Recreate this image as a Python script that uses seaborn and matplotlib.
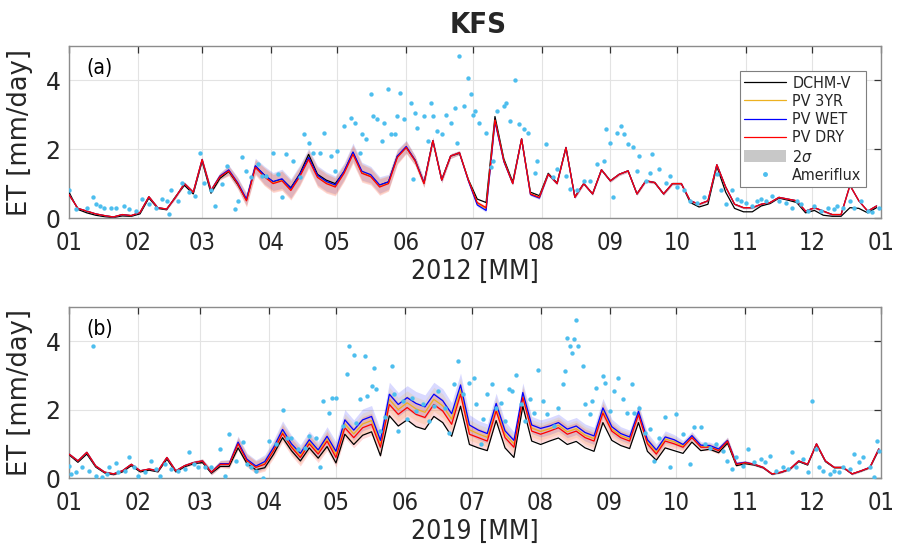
import numpy as np
import pandas as pd
import matplotlib
matplotlib.use("Agg")
import matplotlib.pyplot as plt
from matplotlib.lines import Line2D
from matplotlib.patches import Patch
import seaborn as sns

# ---------------- data ----------------
grid_a = list(range(0, 366, 4))   # day of year 2012 (0 = Jan 1)
grid_b = list(range(0, 365, 4))   # day of year 2019

month_start_a = [0, 31, 60, 91, 121, 152, 182, 213, 244, 274, 305, 335, 366]
month_start_b = [0, 31, 59, 90, 120, 151, 181, 212, 243, 273, 304, 334, 365]
month_labels = ["01", "02", "03", "04", "05", "06", "07", "08", "09", "10", "11", "12", "01"]
year_labels = ["2012 [MM]", "2019 [MM]"]
panel_tags = ["(a)", "(b)"]

dry_a = [0.68, 0.28, 0.20, 0.12, 0.07, 0.03, 0.10, 0.07, 0.16, 0.62,
         0.30, 0.26, 0.60, 1.00, 0.75, 1.70, 0.80, 1.20, 1.37, 1.00,
         0.50, 1.47, 1.20, 1.00, 1.08, 0.80, 1.20, 1.70, 1.18, 1.00,
         0.90, 1.30, 1.85, 1.30, 1.20, 0.90, 1.00, 1.76, 2.05, 1.66,
         1.00, 2.25, 1.10, 1.80, 1.90, 1.10, 0.45, 0.30, 2.85, 1.66,
         1.00, 2.30, 0.70, 0.60, 1.27, 1.00, 2.05, 0.60, 1.00, 0.70,
         1.40, 1.08, 1.27, 1.37, 0.70, 1.08, 1.03, 0.70, 1.00, 1.00,
         0.50, 0.40, 0.50, 1.55, 0.90, 0.40, 0.30, 0.30, 0.40, 0.45,
         0.60, 0.55, 0.50, 0.20, 0.30, 0.20, 0.10, 0.10, 0.95, 0.50,
         0.20, 0.35]
dchm_a = [0.75, 0.25, 0.15, 0.08, 0.04, 0.02, 0.06, 0.05, 0.12, 0.58,
          0.28, 0.24, 0.62, 0.95, 0.70, 1.65, 0.72, 1.15, 1.35, 0.98,
          0.52, 1.50, 1.25, 1.05, 1.12, 0.88, 1.28, 1.85, 1.27, 1.10,
          1.00, 1.35, 1.90, 1.32, 1.22, 0.95, 1.05, 1.80, 2.05, 1.68,
          1.02, 2.25, 1.12, 1.80, 1.88, 1.12, 0.55, 0.45, 2.95, 1.72,
          1.05, 2.30, 0.75, 0.65, 1.30, 1.02, 2.05, 0.62, 1.00, 0.70,
          1.40, 1.08, 1.27, 1.37, 0.70, 1.08, 1.03, 0.70, 1.00, 1.00,
          0.45, 0.32, 0.40, 1.50, 0.75, 0.28, 0.18, 0.18, 0.35, 0.42,
          0.58, 0.52, 0.45, 0.15, 0.22, 0.08, 0.05, 0.05, 0.30, 0.28,
          0.15, 0.30]
wet_a = [0.68, 0.28, 0.20, 0.12, 0.07, 0.03, 0.10, 0.07, 0.16, 0.62,
         0.30, 0.26, 0.60, 1.00, 0.75, 1.70, 0.80, 1.22, 1.40, 1.03,
         0.55, 1.52, 1.25, 1.06, 1.14, 0.86, 1.26, 1.76, 1.24, 1.06,
         0.96, 1.36, 1.92, 1.36, 1.26, 0.96, 1.05, 1.80, 2.08, 1.68,
         1.02, 2.25, 1.10, 1.80, 1.90, 1.08, 0.38, 0.22, 2.80, 1.64,
         1.00, 2.30, 0.68, 0.58, 1.27, 1.00, 2.05, 0.60, 1.00, 0.70,
         1.40, 1.08, 1.27, 1.37, 0.70, 1.08, 1.03, 0.70, 1.00, 1.00,
         0.50, 0.40, 0.50, 1.55, 0.90, 0.40, 0.30, 0.30, 0.40, 0.45,
         0.60, 0.55, 0.50, 0.20, 0.30, 0.20, 0.10, 0.10, 0.95, 0.50,
         0.20, 0.35]
yr3_a = [0.68, 0.28, 0.20, 0.12, 0.07, 0.03, 0.10, 0.07, 0.16, 0.62,
         0.30, 0.26, 0.60, 1.00, 0.75, 1.70, 0.80, 1.21, 1.38, 1.02,
         0.52, 1.50, 1.22, 1.03, 1.10, 0.83, 1.23, 1.73, 1.21, 1.03,
         0.93, 1.33, 1.88, 1.33, 1.23, 0.93, 1.02, 1.78, 2.06, 1.67,
         1.01, 2.25, 1.10, 1.80, 1.90, 1.10, 0.42, 0.27, 2.83, 1.66,
         1.00, 2.30, 0.70, 0.60, 1.27, 1.00, 2.05, 0.60, 1.00, 0.70,
         1.40, 1.08, 1.27, 1.37, 0.70, 1.08, 1.03, 0.70, 1.00, 1.00,
         0.50, 0.40, 0.50, 1.55, 0.90, 0.40, 0.30, 0.30, 0.40, 0.45,
         0.60, 0.55, 0.50, 0.20, 0.30, 0.20, 0.10, 0.10, 0.95, 0.50,
         0.20, 0.35]
sigma_a = [0.03, 0.03, 0.03, 0.03, 0.03, 0.03, 0.03, 0.03, 0.03, 0.03,
           0.03, 0.03, 0.04, 0.05, 0.05, 0.06, 0.08, 0.10, 0.14, 0.16,
           0.18, 0.22, 0.26, 0.26, 0.28, 0.28, 0.28, 0.26, 0.28, 0.28,
           0.26, 0.24, 0.26, 0.26, 0.24, 0.24, 0.22, 0.20, 0.18, 0.14,
           0.12, 0.10, 0.08, 0.07, 0.06, 0.05, 0.05, 0.05, 0.05, 0.05,
           0.04, 0.04, 0.04, 0.04, 0.04, 0.04, 0.04, 0.04, 0.04, 0.04,
           0.04, 0.04, 0.04, 0.04, 0.04, 0.04, 0.04, 0.04, 0.04, 0.04,
           0.03, 0.03, 0.03, 0.03, 0.03, 0.03, 0.03, 0.03, 0.03, 0.03,
           0.03, 0.03, 0.03, 0.03, 0.03, 0.03, 0.03, 0.03, 0.03, 0.03,
           0.03, 0.03]

dry_b = [0.70, 0.50, 0.75, 0.35, 0.17, 0.12, 0.21, 0.40, 0.21, 0.26,
         0.21, 0.60, 0.21, 0.36, 0.45, 0.50, 0.17, 0.40, 0.40, 1.00,
         0.50, 0.31, 0.40, 0.80, 1.30, 0.90, 0.60, 1.00, 0.70, 1.08,
         0.60, 1.47, 1.18, 1.47, 1.57, 0.90, 2.15, 1.86, 2.06, 1.86,
         1.77, 2.15, 1.96, 1.57, 2.45, 1.28, 1.18, 1.08, 1.96, 1.18,
         0.90, 2.35, 1.37, 1.28, 1.37, 1.47, 1.28, 1.37, 1.18, 1.08,
         1.90, 1.37, 1.18, 1.08, 1.85, 1.00, 0.70, 1.08, 1.00, 0.90,
         1.18, 0.90, 0.90, 0.80, 1.08, 0.40, 0.45, 0.40, 0.31, 0.12,
         0.17, 0.26, 0.50, 0.40, 1.00, 0.50, 0.31, 0.31, 0.12, 0.21,
         0.31, 0.85]
wet_b = [0.70, 0.50, 0.75, 0.35, 0.17, 0.12, 0.21, 0.40, 0.21, 0.26,
         0.21, 0.60, 0.21, 0.36, 0.45, 0.50, 0.17, 0.42, 0.42, 1.05,
         0.55, 0.35, 0.48, 0.90, 1.42, 1.00, 0.72, 1.12, 0.82, 1.22,
         0.78, 1.70, 1.40, 1.70, 1.80, 1.10, 2.45, 2.15, 2.35, 2.18,
         2.08, 2.45, 2.26, 1.88, 2.72, 1.55, 1.40, 1.30, 2.18, 1.38,
         1.10, 2.50, 1.55, 1.45, 1.52, 1.62, 1.43, 1.52, 1.33, 1.23,
         2.05, 1.50, 1.30, 1.20, 1.95, 1.12, 0.82, 1.20, 1.12, 0.98,
         1.24, 0.96, 0.95, 0.85, 1.10, 0.42, 0.46, 0.40, 0.31, 0.12,
         0.17, 0.26, 0.50, 0.40, 1.00, 0.50, 0.31, 0.31, 0.12, 0.21,
         0.31, 0.85]
dchm_b = [0.68, 0.46, 0.70, 0.32, 0.15, 0.10, 0.18, 0.36, 0.18, 0.23,
          0.18, 0.55, 0.18, 0.33, 0.42, 0.45, 0.14, 0.34, 0.34, 0.88,
          0.42, 0.24, 0.30, 0.70, 1.18, 0.80, 0.50, 0.88, 0.58, 0.92,
          0.44, 1.28, 0.98, 1.25, 1.35, 0.65, 1.82, 1.52, 1.70, 1.50,
          1.42, 1.80, 1.62, 1.22, 2.10, 0.98, 0.88, 0.80, 1.68, 0.88,
          0.60, 2.10, 1.08, 0.98, 1.08, 1.17, 0.98, 1.07, 0.88, 0.78,
          1.62, 1.10, 0.95, 0.86, 1.62, 0.78, 0.52, 0.88, 0.80, 0.72,
          1.05, 0.80, 0.84, 0.74, 1.02, 0.36, 0.42, 0.38, 0.30, 0.11,
          0.16, 0.25, 0.48, 0.38, 0.98, 0.48, 0.30, 0.30, 0.12, 0.20,
          0.30, 0.82]
yr3_b = [0.70, 0.50, 0.75, 0.35, 0.17, 0.12, 0.21, 0.40, 0.21, 0.26,
         0.21, 0.60, 0.21, 0.36, 0.45, 0.50, 0.17, 0.41, 0.41, 1.02,
         0.52, 0.33, 0.44, 0.85, 1.36, 0.95, 0.66, 1.06, 0.76, 1.15,
         0.69, 1.58, 1.29, 1.58, 1.68, 1.00, 2.30, 2.00, 2.20, 2.02,
         1.92, 2.30, 2.11, 1.72, 2.58, 1.41, 1.29, 1.19, 2.07, 1.28,
         1.00, 2.42, 1.46, 1.36, 1.44, 1.54, 1.35, 1.44, 1.25, 1.15,
         1.98, 1.43, 1.24, 1.14, 1.90, 1.06, 0.76, 1.14, 1.06, 0.94,
         1.21, 0.93, 0.92, 0.82, 1.09, 0.41, 0.45, 0.40, 0.31, 0.12,
         0.17, 0.26, 0.50, 0.40, 1.00, 0.50, 0.31, 0.31, 0.12, 0.21,
         0.31, 0.85]
sigma_b = [0.04, 0.04, 0.04, 0.04, 0.04, 0.04, 0.04, 0.04, 0.04, 0.04,
           0.04, 0.04, 0.04, 0.05, 0.05, 0.06, 0.08, 0.10, 0.12, 0.18,
           0.18, 0.18, 0.20, 0.22, 0.25, 0.25, 0.25, 0.25, 0.25, 0.28,
           0.28, 0.30, 0.30, 0.32, 0.32, 0.30, 0.35, 0.35, 0.35, 0.35,
           0.35, 0.35, 0.35, 0.32, 0.35, 0.30, 0.28, 0.28, 0.30, 0.28,
           0.25, 0.28, 0.25, 0.25, 0.25, 0.25, 0.25, 0.25, 0.25, 0.25,
           0.28, 0.22, 0.20, 0.20, 0.22, 0.20, 0.18, 0.18, 0.15, 0.12,
           0.12, 0.10, 0.10, 0.10, 0.10, 0.06, 0.05, 0.04, 0.04, 0.03,
           0.03, 0.03, 0.03, 0.03, 0.03, 0.03, 0.03, 0.03, 0.03, 0.03,
           0.03, 0.03]

amf_a_day = [0, 3, 8, 11, 12, 14, 16, 19, 21, 25, 27, 30, 33, 36, 39, 42, 44, 45, 46, 49,
             51, 54, 57, 59, 61, 64, 66, 69, 71, 75, 76, 78, 80, 82, 85, 87, 89, 92, 94, 96,
             98, 101, 104, 106, 108, 110, 113, 115, 118, 120, 121, 124, 127, 129, 131, 132, 134, 136, 137, 139,
             141, 142, 144, 145, 147, 148, 149, 151, 154, 155, 156, 157, 160, 162, 163, 164, 166, 168, 170, 172,
             174, 175, 176, 178, 180, 181, 182, 183, 185, 188, 190, 191, 193, 196, 197, 199, 201, 203, 205, 207,
             210, 211, 215, 218, 220, 224, 226, 229, 232, 235, 238, 241, 242, 244, 245, 247, 249, 250, 252, 254,
             256, 257, 260, 262, 263, 266, 269, 271, 274, 277, 280, 283, 286, 292, 294, 296, 299, 301, 303, 305,
             308, 310, 312, 314, 317, 320, 323, 326, 328, 330, 333, 336, 339, 342, 345, 346, 349, 352, 354, 357,
             360, 362, 365]
amf_a_val = [0.80, 0.26, 0.30, 0.60, 0.40, 0.36, 0.30, 0.29, 0.29, 0.36, 0.26, 0.21, 0.55, 0.40, 0.30, 0.55, 0.50, 0.12, 0.80, 0.50,
             1.03, 0.75, 0.65, 1.90, 1.03, 0.80, 0.36, 1.00, 1.52, 0.26, 0.50, 1.76, 1.37, 1.18, 1.56, 1.23, 1.23, 1.90, 1.27, 0.60,
             1.85, 1.66, 1.18, 2.43, 2.19, 1.90, 1.90, 2.48, 1.80, 1.37, 1.95, 2.68, 2.92, 2.77, 1.90, 2.43, 2.29, 3.60, 2.97, 2.87,
             2.24, 2.77, 3.74, 2.43, 2.43, 2.97, 3.64, 2.87, 3.35, 1.13, 3.06, 2.63, 2.97, 2.24, 3.35, 2.97, 2.53, 2.43, 3.00, 2.77,
             3.20, 2.19, 4.70, 3.25, 4.08, 3.60, 3.00, 3.10, 2.77, 2.48, 1.47, 1.66, 3.10, 3.26, 3.35, 2.82, 4.00, 2.72, 2.58, 2.48,
             1.32, 1.66, 2.14, 1.18, 1.42, 1.23, 0.84, 0.80, 1.08, 1.08, 1.57, 1.66, 2.58, 2.19, 0.60, 2.48, 2.68, 2.43, 2.14, 2.05,
             1.37, 1.80, 1.08, 1.32, 1.85, 1.42, 1.03, 1.23, 0.90, 0.80, 0.50, 0.45, 0.60, 1.27, 0.80, 0.40, 0.80, 0.55, 0.50, 0.45,
             0.36, 0.50, 0.55, 0.50, 0.65, 0.50, 0.45, 0.30, 0.50, 0.40, 0.21, 0.36, 0.21, 0.30, 0.26, 0.36, 0.30, 0.50, 0.30, 0.50,
             0.21, 0.16, 0.30]

amf_b_day = [0, 1, 3, 6, 9, 11, 12, 15, 17, 18, 21, 22, 25, 27, 29, 31, 34, 37, 39, 41,
             43, 46, 49, 52, 54, 56, 58, 61, 64, 68, 70, 72, 75, 78, 80, 82, 84, 87, 90, 93,
             96, 98, 100, 103, 106, 108, 111, 113, 114, 117, 118, 120, 123, 125, 126, 128, 129, 131, 133, 134,
             136, 137, 138, 140, 142, 145, 146, 148, 150, 152, 154, 156, 159, 162, 164, 166, 169, 171, 173, 175,
             177, 180, 182, 183, 185, 186, 188, 190, 192, 194, 196, 198, 199, 201, 203, 205, 207, 209, 211, 213,
             215, 218, 220, 222, 223, 224, 225, 226, 227, 228, 229, 231, 232, 234, 235, 237, 240, 241, 243, 245,
             247, 249, 251, 253, 254, 256, 259, 261, 263, 265, 268, 270, 273, 276, 279, 281, 284, 286, 288, 291,
             294, 296, 298, 300, 303, 305, 308, 311, 313, 315, 318, 321, 323, 325, 327, 330, 332, 334, 336, 337,
             339, 342, 344, 346, 348, 351, 353, 355, 357, 360, 362, 363, 364]
amf_b_val = [0.36, 0.12, 0.17, 0.31, 0.21, 3.85, 0.07, 0.02, 0.12, 0.31, 0.43, 0.17, 0.21, 0.60, 0.31, 0.07, 0.17, 0.50, 0.26, 0.07,
             0.41, 0.26, 0.21, 0.26, 0.75, 0.41, 0.31, 0.31, 0.31, 0.84, 0.07, 1.28, 0.50, 1.04, 0.41, 0.31, 0.21, 0.00, 1.09, 0.99,
             1.98, 1.18, 1.18, 0.84, 0.89, 1.23, 1.18, 0.31, 2.25, 1.91, 2.35, 2.35, 1.52, 3.03, 3.85, 3.61, 1.62, 2.30, 3.56, 2.40,
             2.69, 3.22, 2.59, 1.38, 1.77, 3.27, 2.45, 1.38, 2.25, 1.72, 2.35, 1.96, 2.15, 1.67, 2.11, 2.54, 2.06, 1.33, 2.74, 3.42,
             2.45, 2.79, 2.93, 2.15, 0.99, 1.72, 2.45, 2.74, 2.06, 2.20, 1.67, 2.59, 2.54, 3.00, 2.15, 1.67, 2.30, 1.91, 3.15, 2.25,
             1.86, 1.52, 2.06, 2.74, 3.13, 4.10, 3.85, 3.66, 4.05, 4.63, 3.85, 3.27, 2.15, 1.86, 2.25, 2.64, 2.98, 2.79, 1.96, 2.54,
             2.93, 2.30, 1.91, 2.74, 1.91, 2.06, 1.33, 1.43, 0.50, 1.18, 1.77, 0.31, 1.86, 1.28, 0.41, 1.48, 1.48, 0.99, 0.89, 0.99,
             0.80, 0.50, 0.26, 0.60, 0.36, 0.84, 0.46, 0.55, 0.46, 0.65, 0.21, 0.31, 0.26, 0.75, 0.31, 0.55, 0.17, 2.25, 0.84, 0.31,
             0.21, 0.12, 0.21, 0.17, 0.31, 0.26, 0.70, 0.46, 0.60, 0.31, 0.02, 1.09, 0.80]

# ---------------- style ----------------
sns.set_theme(style="white")
plt.rcParams["font.family"] = ["DejaVu Sans"]
plt.rcParams["font.stretch"] = "condensed"
plt.rcParams["axes.edgecolor"] = "#8c8c8c"

C_DCHM, C_3YR, C_WET, C_DRY, C_AMF = "black", "#EDB120", "#0000FF", "#FF0000", "#4DBEEE"
TXT = "#262626"

fig = plt.figure(figsize=(9.04, 5.48), dpi=100)
ax_a = fig.add_axes([69 / 904, 1 - 218 / 548, 812 / 904, 172 / 548])
ax_b = fig.add_axes([69 / 904, 1 - 478 / 548, 812 / 904, 171 / 548])

panels = [
    (ax_a, grid_a, dchm_a, yr3_a, wet_a, dry_a, sigma_a, amf_a_day, amf_a_val, month_start_a),
    (ax_b, grid_b, dchm_b, yr3_b, wet_b, dry_b, sigma_b, amf_b_day, amf_b_val, month_start_b),
]

for i, (ax, g, dchm, yr3, wet, dry, sig, ad, av, ms) in enumerate(panels):
    g = np.array(g)
    wet_arr, dry_arr, yr3_arr, sig_arr = map(np.array, (wet, dry, yr3, sig))
    ax.fill_between(g, wet_arr - sig_arr, wet_arr + sig_arr, color=C_WET, alpha=0.15, lw=0, zorder=1)
    ax.fill_between(g, yr3_arr - sig_arr, yr3_arr + sig_arr, color=C_3YR, alpha=0.15, lw=0, zorder=1)
    ax.fill_between(g, dry_arr - sig_arr, dry_arr + sig_arr, color=C_DRY, alpha=0.15, lw=0, zorder=1)

    df = pd.DataFrame({"day": g, "DCHM-V": dchm, "PV 3YR": yr3, "PV WET": wet, "PV DRY": dry})
    for name, col in [("DCHM-V", C_DCHM), ("PV 3YR", C_3YR), ("PV WET", C_WET), ("PV DRY", C_DRY)]:
        sns.lineplot(data=df, x="day", y=name, ax=ax, color=col, lw=0.9, legend=False, zorder=3)

    sns.scatterplot(x=ad, y=av, ax=ax, color=C_AMF, s=10, linewidth=0, legend=False, zorder=4)

    ax.set_xlim(ms[0], ms[-1])
    ax.set_ylim(0, 5)
    ax.set_xticks(ms)
    ax.set_xticklabels(month_labels)
    ax.set_yticks([0, 2, 4])
    ax.set_yticklabels(["0", "2", "4"], fontstretch="normal")
    ax.grid(True, color="#e3e3e3", lw=0.8, zorder=0)
    ax.set_axisbelow(True)
    ax.tick_params(direction="in", length=5, width=0.9, color="#333333",
                   labelcolor=TXT, top=True, right=True)
    ax.tick_params(axis="x", labelsize=17, pad=9)
    ax.tick_params(axis="y", labelsize=17, pad=6)
    for sp in ax.spines.values():
        sp.set_visible(True)
        sp.set_linewidth(1.0)
        sp.set_color("#8c8c8c")
    ax.set_xlabel(year_labels[i], fontsize=19, color=TXT, labelpad=3)
    ax.set_ylabel("ET [mm/day]", fontsize=18.5, color=TXT, labelpad=9, fontstretch="normal")
    ax.text(0.021, 0.93, panel_tags[i], transform=ax.transAxes, fontsize=15,
            fontweight="medium", ha="left", va="top", color="black")

fig.text(0.529, 0.955, "KFS", ha="center", va="center", fontsize=21, fontweight="bold")

handles = [
    Line2D([], [], color=C_DCHM, lw=0.9),
    Line2D([], [], color=C_3YR, lw=0.9),
    Line2D([], [], color=C_WET, lw=0.9),
    Line2D([], [], color=C_DRY, lw=0.9),
    Patch(facecolor="#c8c8c8", edgecolor="none"),
    Line2D([], [], color=C_AMF, marker="o", markersize=2.5, lw=0),
]
labels = ["DCHM-V", "PV 3YR", "PV WET", "PV DRY", "2$\\sigma$", "Ameriflux"]
leg = ax_a.legend(handles, labels, loc="upper right", bbox_to_anchor=(0.982, 0.855),
                  fontsize=11.5, frameon=True, fancybox=False, framealpha=1,
                  edgecolor="#7f7f7f", handlelength=2.6, handletextpad=0.4,
                  labelspacing=0.2, borderpad=0.3, borderaxespad=0)
leg.get_frame().set_linewidth(0.8)

fig.savefig("out.png", dpi=100)
